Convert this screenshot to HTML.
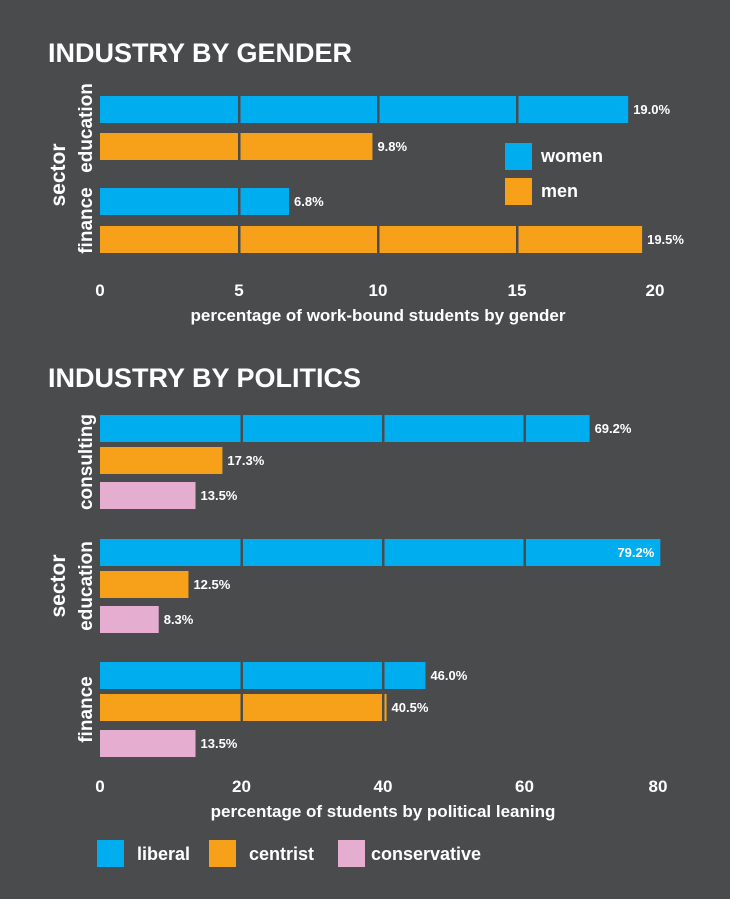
<!DOCTYPE html>
<html><head><meta charset="utf-8"><style>
body{margin:0;background:#4a4b4d;}
svg{display:block;font-family:"Liberation Sans",Arial,sans-serif;font-weight:bold;}
</style></head><body>
<svg id="c" width="730" height="899" viewBox="0 0 730 899" xmlns="http://www.w3.org/2000/svg">
<rect width="730" height="899" fill="#4a4b4d"/>
<text x="48" y="62" fill="#fff" font-size="27">INDUSTRY BY GENDER</text>
<text x="48" y="387" fill="#fff" font-size="27">INDUSTRY BY POLITICS</text>
<g id="g1"></g><g id="g2"></g>
</svg>
<script>
const genderSectors=["education","finance"];
const genderSeries=["women","men"];
const genderWomen=[19.0,6.8];
const genderMen=[9.8,19.5];
const genderTicks=[0,5,10,15,20];
const polSectors=["consulting","education","finance"];
const polSeries=["liberal","centrist","conservative"];
const polLiberal=[69.2,79.2,46.0];
const polCentrist=[17.3,12.5,40.5];
const polConservative=[13.5,8.3,13.5];
const polTicks=[0,20,40,60,80];

const NS="http://www.w3.org/2000/svg";
const BG="#4a4b4d";
function el(p,t,a,txt){const e=document.createElementNS(NS,t);for(const k in a)e.setAttribute(k,a[k]);if(txt!=null)e.textContent=txt;p.appendChild(e);return e;}

function chart(g,o){
  const x=v=>o.x0+(v-o.t[0])/(o.t[o.t.length-1]-o.t[0])*(o.x1-o.x0);
  o.cats.forEach((c,ci)=>{
    o.vals.forEach((arr,si)=>{
      const v=arr[ci];const y=o.rows[ci][si];
      const r=el(g,'rect',{x:x(0),y:y,width:x(v)-x(0),height:27,fill:o.colors[si]});
      
      
      o.t.slice(1,-1).forEach(tv=>{if(tv<v){const l=el(g,'rect',{x:x(tv)-1,y:y,width:2.5,height:27,fill:BG});}});
      const inside=o.inside&&o.inside(ci,si);
      const lab=el(g,'text',{x:inside?x(v)-6:x(v)+5,y:y+18,fill:'#fff','font-size':13,'text-anchor':inside?'end':'start'},v.toFixed(1)+'%');
      
      
    });
    const rs=o.rows[ci];const cy=(rs[0]+rs[rs.length-1]+27)/2;
    const cl=el(g,'text',{x:0,y:0,fill:'#fff','font-size':19,'text-anchor':'middle',transform:`translate(92,${cy}) rotate(-90)`},c);
    
    
  });
  o.t.forEach((tv,i)=>{const t=el(g,'text',{x:x(tv)-(i===o.t.length-1?o.lastOff:0),y:o.tickY,fill:'#fff','font-size':17,'text-anchor':'middle'},tv);
    });
  const xt=el(g,'text',{x:(o.x0+o.x1)/2,y:o.tickY+25,fill:'#fff','font-size':17,'text-anchor':'middle'},o.title);
  
  const yt=el(g,'text',{x:0,y:0,fill:'#fff','font-size':21,'text-anchor':'middle',transform:`translate(65,${o.yMid}) rotate(-90)`},'sector');
  
}
const C=["#00aeef","#f7a11a","#e5aed0"];
chart(document.getElementById('g1'),{cats:genderSectors,series:genderSeries,vals:[genderWomen,genderMen],colors:C,t:genderTicks,x0:100,x1:656,lastOff:1,
  rows:[[96,133],[188,226]],tickY:296,title:'percentage of work-bound students by gender',yMid:175});
chart(document.getElementById('g2'),{cats:polSectors,series:polSeries,vals:[polLiberal,polCentrist,polConservative],colors:C,t:polTicks,x0:100,x1:666,lastOff:8,
  rows:[[415,447,482],[539,571,606],[662,694,730]],tickY:792,title:'percentage of students by political leaning',yMid:586,
  inside:(ci,si)=>polLiberal[ci]>75&&si===0});
const g1=document.getElementById('g1'),g2=document.getElementById('g2');
[["women",143],["men",178]].forEach((d,i)=>{
  const r=el(g1,'rect',{x:505,y:d[1],width:27,height:27,fill:C[i]});
  const t=el(g1,'text',{x:541,y:d[1]+19,fill:'#fff','font-size':18},d[0]);
});
[["liberal",97,137],["centrist",209,249],["conservative",338,371]].forEach((d,i)=>{
  const r=el(g2,'rect',{x:d[1],y:840,width:27,height:27,fill:C[i]});
  const t=el(g2,'text',{x:d[2],y:860,fill:'#fff','font-size':18},d[0]);
});
</script>
</body></html>
